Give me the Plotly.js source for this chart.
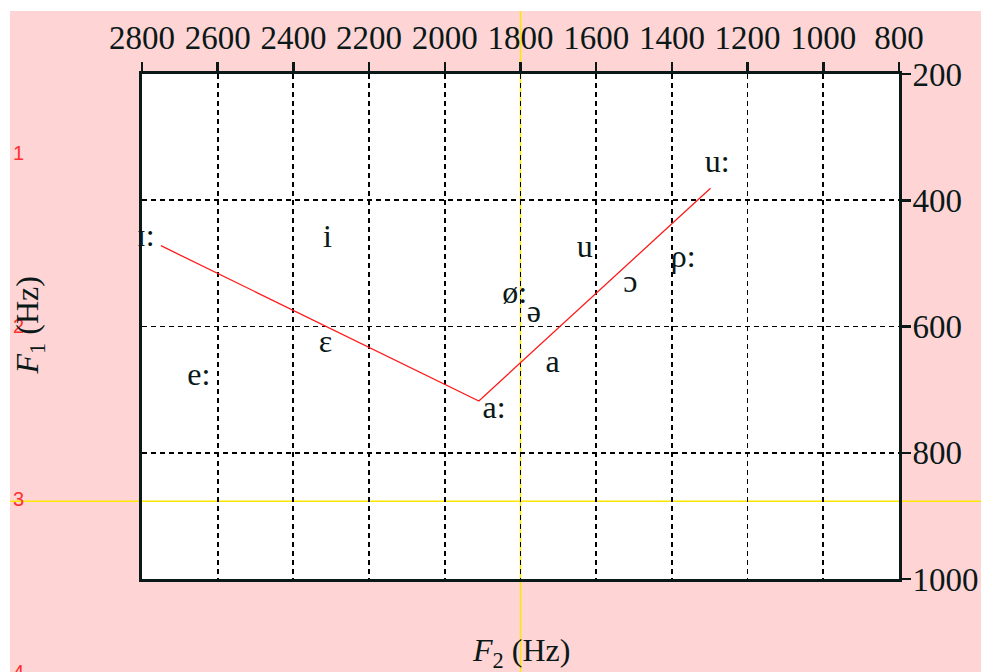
<!DOCTYPE html>
<html>
<head>
<meta charset="utf-8">
<script src="https://cdn.plot.ly/plotly-3.0.1.min.js"></script>
<style>
  html, body { margin: 0; padding: 0; background: #ffffff; }
  #chart { position: absolute; left: 10px; top: 11px; width: 971px; height: 661px; }
</style>
</head>
<body>
<div id="chart"></div>
<script>
// Vowel formant chart: F2 on the (reversed) top axis, F1 on the (reversed) right axis.
const vowelLabels = ["ɪ:", "i", "e:", "ɛ", "a:", "a", "ø:", "ə", "u", "ɔ", "ρ:", "u:"];
const vowelF2 = [2790, 2310, 2650, 2315, 1870, 1715, 1815, 1765, 1630, 1510, 1370, 1280];
const vowelF1 = [460, 462, 680, 628, 732, 660, 550, 580, 477, 533, 493, 342];

// Trajectory drawn through the corner vowels
const pathF2 = [2750, 1910, 1298];
const pathF1 = [472, 718, 381];

const f2Ticks = [2800, 2600, 2400, 2200, 2000, 1800, 1600, 1400, 1200, 1000, 800];
const f1Ticks = [200, 400, 600, 800, 1000];

// Guide lines and the side scale (paper units of the plot area)
const guideF2 = 1800;
const guideF1 = 877;
const sideScaleLabels = ["1", "2", "3", "4"];
const sideScaleY = [0.8436, 0.501, 0.158, -0.185];

const ink = "#0a1818";
const serif = "Liberation Serif, DejaVu Serif, serif";

const traces = [
  {
    x: pathF2, y: pathF1, type: "scatter", mode: "lines",
    line: { color: "#ff1a1a", width: 1.3 }, hoverinfo: "skip"
  },
  {
    x: vowelF2, y: vowelF1, text: vowelLabels, type: "scatter", mode: "text",
    textposition: "middle center", cliponaxis: false,
    textfont: { family: serif, size: 32, color: ink }, hoverinfo: "skip"
  }
];

const annotations = sideScaleLabels.map((t, i) => ({
  text: t, xref: "paper", yref: "paper", x: -0.1625, y: sideScaleY[i],
  xanchor: "center", yanchor: "middle", showarrow: false,
  font: { family: "Liberation Sans, Arial, sans-serif", size: 20, color: "#ff3030" }
}));
annotations.push({
  text: "<i>F</i><sub>2</sub> (Hz)", xref: "paper", yref: "paper",
  x: 0.5, y: -0.145, xanchor: "center", yanchor: "middle", showarrow: false,
  font: { family: serif, size: 32, color: ink }
});
annotations.push({
  text: "<i>F</i><sub>1</sub> (Hz)", xref: "paper", yref: "paper",
  x: -0.148, y: 0.502, xanchor: "center", yanchor: "middle", showarrow: false,
  textangle: -90,
  font: { family: serif, size: 32, color: ink }
});

const axisCommon = {
  ticks: "outside", ticklen: 9, tickwidth: 2.5, tickcolor: ink,
  showline: true, linewidth: 3, linecolor: ink, mirror: true,
  showgrid: true, gridcolor: "#000000", gridwidth: 1.8, griddash: "5px,4px",
  zeroline: false,
  tickfont: { family: serif, size: 33, color: ink }
};

const layout = {
  width: 971, height: 661,
  margin: { l: 132, r: 82, t: 63, b: 93 },
  paper_bgcolor: "#ffd4d4",
  plot_bgcolor: "#ffffff",
  showlegend: false,
  xaxis: Object.assign({ range: [2800, 800], side: "top", tickvals: f2Ticks }, axisCommon),
  yaxis: Object.assign({ range: [1000, 200], side: "right", tickvals: f1Ticks, ticklabelstandoff: -5 }, axisCommon),
  shapes: [
    {
      type: "line", layer: "below", xref: "x", yref: "paper",
      x0: guideF2, x1: guideF2, y0: -0.3, y1: 1.3,
      line: { color: "#ffe600", width: 1.5 }
    },
    {
      type: "line", layer: "below", xref: "paper", yref: "y",
      x0: -0.3, x1: 1.3, y0: guideF1, y1: guideF1,
      line: { color: "#ffe600", width: 1.5 }
    }
  ],
  annotations: annotations
};

Plotly.newPlot("chart", traces, layout, { staticPlot: true, displayModeBar: false });
</script>
</body>
</html>
